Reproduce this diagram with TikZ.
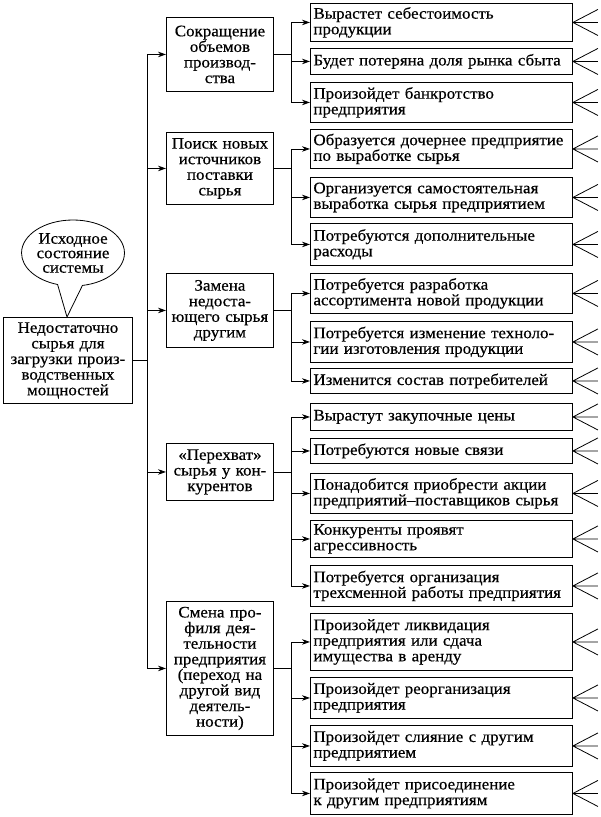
\documentclass[tikz,border=0pt]{standalone}
\usepackage{fontspec}
\setmainfont[FakeStretch=1.06,FakeBold=0.5]{Liberation Serif}
\usetikzlibrary{arrows.meta,shapes.callouts}
\begin{document}
\begin{tikzpicture}[x=1pt,y=-1pt,
 box/.style={draw, line width=0.9pt, inner xsep=3pt, inner ysep=0pt, font=\fontsize{16}{15.6}\selectfont},
 rbox/.style={box, anchor=north west, minimum width=262pt, text width=256pt, align=left},
 mbox/.style={box, anchor=north west, minimum width=107pt, text width=105pt, align=center, inner xsep=1pt},
 arr/.style={line width=0.8pt, -{Stealth[length=8pt,width=5.5pt]}},
 chev/.style={line width=0.8pt}]
\useasboundingbox (0,0) rectangle (601,817);

% left box and callout
\node[mbox, minimum width=129pt, text width=127pt, minimum height=86pt] (L) at (3,317)
  {Недостаточно\\сырья для\\загрузки произ-\\водственных\\мощностей};
\path (L.north west) ++(64,0) coordinate (tip);
\node[draw, line width=0.8pt, ellipse callout, callout absolute pointer=(tip), callout pointer arc=28,
  minimum width=96pt, minimum height=66pt, inner sep=0pt, align=center,
  font=\fontsize{16}{14.5}\selectfont] (C) at (73,253) {Исходное\\состояние\\системы};

% middle boxes
\node[mbox, minimum height=74pt] (m1) at (166,17) {Сокращение\\объемов\\производ-\\ства};
\node[mbox, minimum height=72pt] (m2) at (166,132) {Поиск новых\\источников\\поставки\\сырья};
\node[mbox, minimum height=74pt] (m3) at (166,273) {Замена\\недоста-\\ющего сырья\\другим};
\node[mbox, minimum height=57pt] (m4) at (166,443) {«Перехват»\\сырья у кон-\\курентов};
\node[mbox, minimum height=134pt] (m5) at (166,601) {Смена про-\\филя дея-\\тельности\\предприятия\\(переход на\\другой вид\\деятель-\\ности)};

% right boxes
\node[rbox, minimum height=38pt] (r1) at (310,3) {Вырастет себестоимость\\продукции};
\node[rbox, minimum height=26pt] (r2) at (310,48) {Будет потеряна доля рынка сбыта};
\node[rbox, minimum height=40pt] (r3) at (310,82) {Произойдет банкротство\\предприятия};
\node[rbox, minimum height=39pt] (r4) at (310,129) {Образуется дочернее предприятие\\по выработке сырья};
\node[rbox, minimum height=40pt] (r5) at (310,177) {Организуется самостоятельная\\выработка сырья предприятием};
\node[rbox, minimum height=42pt] (r6) at (310,223) {Потребуются дополнительные\\расходы};
\node[rbox, minimum height=40pt] (r7) at (310,273) {Потребуется разработка\\ассортимента новой продукции};
\node[rbox, minimum height=41pt] (r8) at (310,321) {Потребуется изменение техноло-\\гии изготовления продукции};
\node[rbox, minimum height=25pt] (r9) at (310,368) {Изменится состав потребителей};
\node[rbox, minimum height=27pt] (r10) at (310,403) {Вырастут закупочные цены};
\node[rbox, minimum height=25pt] (r11) at (310,438) {Потребуются новые связи};
\node[rbox, minimum height=40pt] (r12) at (310,473) {Понадобится приобрести акции\\предприятий–поставщиков сырья};
\node[rbox, minimum height=37pt] (r13) at (310,520) {Конкуренты проявят\\агрессивность};
\node[rbox, minimum height=41pt] (r14) at (310,565) {Потребуется организация\\трехсменной работы предприятия};
\node[rbox, minimum height=57pt] (r15) at (310,613) {Произойдет ликвидация\\предприятия или сдача\\имущества в аренду};
\node[rbox, minimum height=41pt] (r16) at (310,677) {Произойдет реорганизация\\предприятия};
\node[rbox, minimum height=41pt] (r17) at (310,725) {Произойдет слияние с другим\\предприятием};
\node[rbox, minimum height=42pt] (r18) at (310,772) {Произойдет присоединение\\к другим предприятиям};

% trunk
\foreach \i in {1,...,5} \draw[arr] (L.east) -- ++(14,0) |- (m\i.west);

% branches
\foreach \i in {1,2,3} \draw[arr] (m1.east) -- ++(17,0) |- (r\i.west);
\foreach \i in {4,5,6} \draw[arr] (m2.east) -- ++(17,0) |- (r\i.west);
\foreach \i in {7,8,9} \draw[arr] (m3.east) -- ++(17,0) |- (r\i.west);
\foreach \i in {10,...,14} \draw[arr] (m4.east) -- ++(17,0) |- (r\i.west);
\foreach \i in {15,...,18} \draw[arr] (m5.east) -- ++(17,0) |- (r\i.west);

% chevrons
\foreach \i in {1,...,18}
  \draw[chev] (r\i.east) -- ++(25,-13) (r\i.east) -- ++(25,0) (r\i.east) -- ++(25,13);
\end{tikzpicture}
\end{document}
